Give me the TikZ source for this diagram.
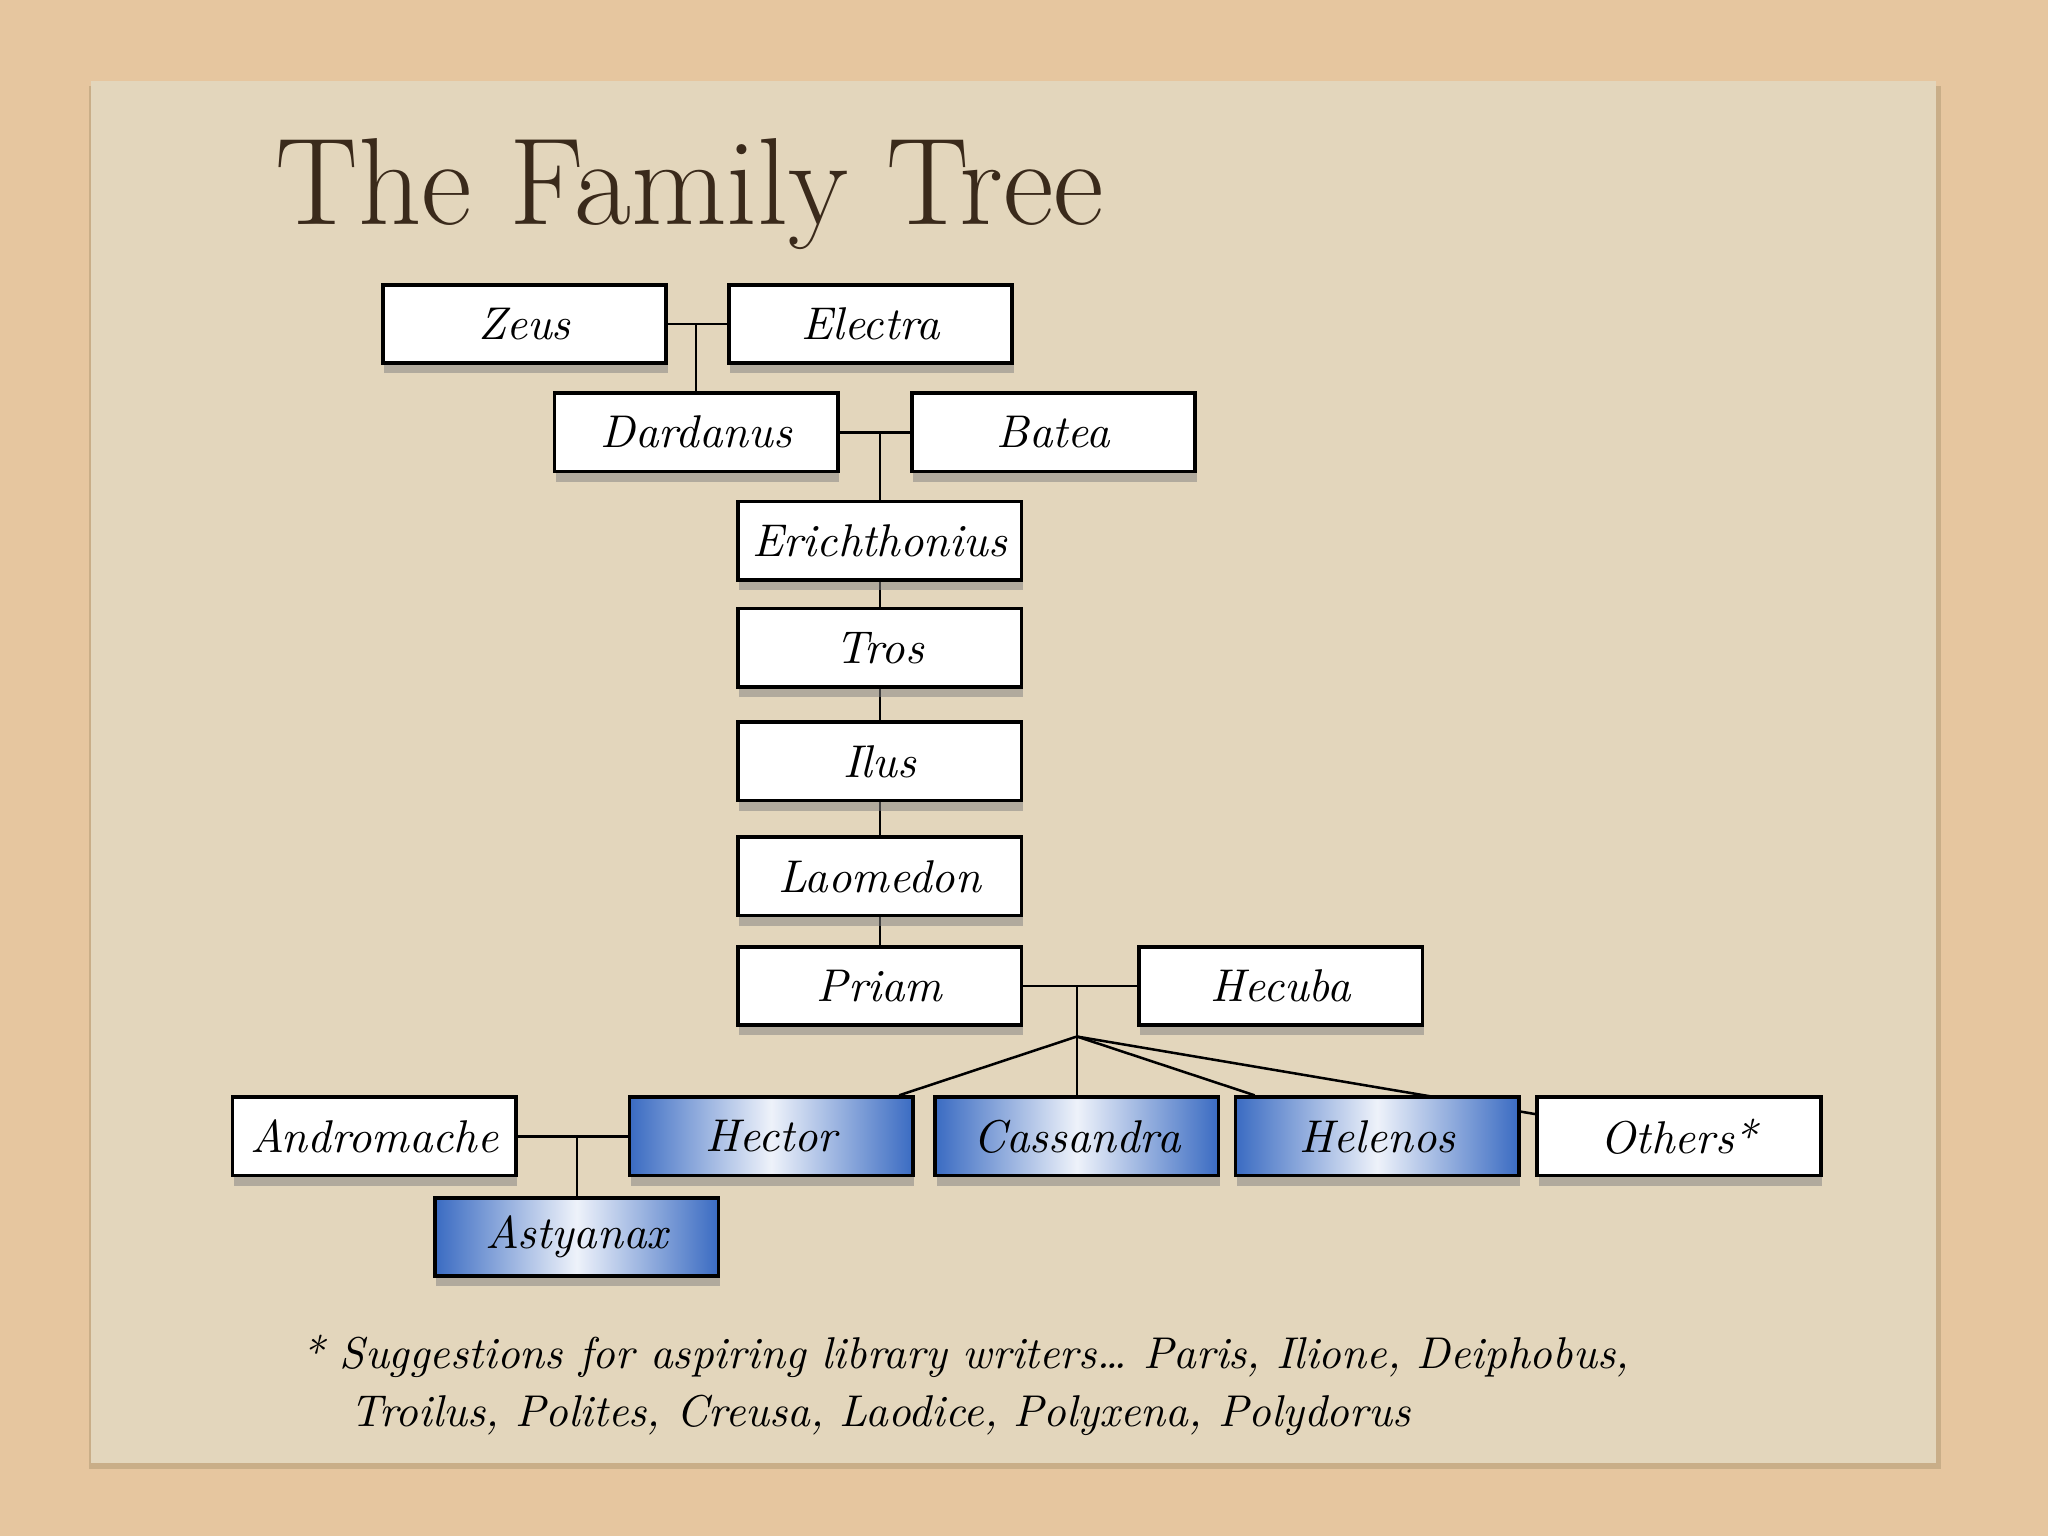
\documentclass[tikz,border=0pt]{standalone}
\usepackage{xcolor}
\usepackage{tikz}
\usetikzlibrary{positioning, calc, shadows, backgrounds}
\pgfdeclarelayer{paper}
\pgfsetlayers{paper,background,main}
\definecolor{pTan}{HTML}{E6C69F}
\definecolor{pPaper}{HTML}{E3D6BC}
\definecolor{pEdge}{HTML}{C9AE88}
\definecolor{tBrown}{HTML}{3A2A1B}
\definecolor{nBlue}{HTML}{3A6BC2}
\definecolor{nBlueLt}{HTML}{EEF2FA}
\tikzset{
  person/.style={draw=black, line width=0.8pt, fill=white, minimum width=2.17cm,
    minimum height=0.6cm, inner sep=1pt, font=\itshape\fontsize{10}{12}\selectfont,
    drop shadow={shadow xshift=0.3pt, shadow yshift=-2.2pt, opacity=0.5}},
  heir/.style={person, left color=nBlue, right color=nBlue, middle color=nBlueLt},
  wed/.style={line width=0.55pt},
  kin/.style={line width=0.4pt},
}

\begin{document}
\begin{tikzpicture}
  \useasboundingbox (0,0) rectangle (15.68,-11.76);
  \begin{pgfonlayer}{paper}
    \fill[pTan] (0,0) rectangle (15.68,-11.76);
    \fill[pEdge] (0.68,-0.66) rectangle (14.86,-11.25);
    \fill[pPaper] (0.70,-0.62) rectangle (14.82,-11.20);
  \end{pgfonlayer}
  \node[anchor=base west, inner sep=0pt, text=tBrown, font=\fontsize{27}{32}\selectfont] (title) at (2.10,-1.72) {The Family Tree};
  % the line down to Priam
  \node[person] (zeus) at (4.015,-2.48) {Zeus};
  \node[person] (electra) at (6.665,-2.48) {Electra};
  \node[person] (dardanus) at (5.33,-3.31) {Dardanus};
  \node[person] (batea) at (8.065,-3.31) {Batea};
  \node[person] (erich) at (6.735,-4.14) {Erichthonius};
  \node[person] (tros) at (6.735,-4.96) {Tros};
  \node[person] (ilus) at (6.735,-5.83) {Ilus};
  \node[person] (laomedon) at (6.735,-6.71) {Laomedon};
  \node[person] (priam) at (6.735,-7.55) {Priam};
  \node[person] (hecuba) at (9.805,-7.55) {Hecuba};
  % children of Priam and Hecuba
  \node[person] (andromache) at (2.865,-8.70) {Andromache};
  \node[heir] (hector) at (5.905,-8.70) {Hector};
  \node[heir] (cassandra) at (8.245,-8.70) {Cassandra};
  \node[heir] (helenos) at (10.545,-8.70) {Helenos};
  \node[person] (others) at (12.855,-8.70) {Others*};
  \node[heir] (astyanax) at (4.415,-9.47) {Astyanax};
  \begin{pgfonlayer}{background}
    \draw[wed] (zeus) -- (electra);
    \draw[kin] (zeus.east -| dardanus.north) -- (dardanus.north);
    \draw[wed] (dardanus) -- (batea);
    \draw[kin] (dardanus.east -| erich.north) -- (erich.north);
    \foreach \a/\b in {erich/tros, tros/ilus, ilus/laomedon, laomedon/priam}
      \draw[kin] (\a) -- (\b);
    \draw[wed] (priam) -- (hecuba);
    \draw[kin] (priam.east -| cassandra.north) -- (cassandra.north);
    \coordinate (kids) at ($(cassandra.north)+(0,0.45)$);
    \draw[wed] (kids) -- ([xshift=-0.12cm]hector.north east);
    \draw[wed] (kids) -- ([xshift=0.16cm]helenos.north west);
    \draw[wed] (kids) -- ([yshift=0.17cm]others.west);
    \draw[wed] (andromache) -- (hector);
    \draw[kin] (andromache.east -| astyanax.north) -- (astyanax.north);
  \end{pgfonlayer}
  \node[anchor=base west, inner sep=0pt, font=\itshape\fontsize{9.7}{11.5}\selectfont] (note) at (2.30,-10.48)
    {* Suggestions for aspiring library writers\ldots\ Paris, Ilione, Deiphobus,};
  \node[anchor=base west, inner sep=0pt, font=\itshape\fontsize{9.7}{11.5}\selectfont] (note2) at (2.68,-10.92)
    {Troilus, Polites, Creusa, Laodice, Polyxena, Polydorus};
\end{tikzpicture}
\end{document}
